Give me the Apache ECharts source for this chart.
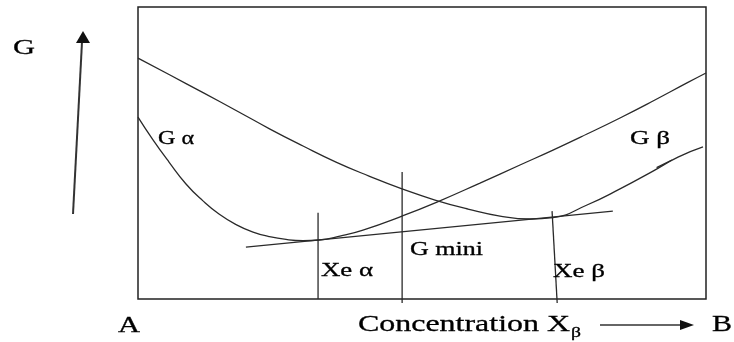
<!DOCTYPE html>
<html>
<head>
<meta charset="utf-8">
<script src="https://cdn.jsdelivr.net/npm/echarts@6/dist/echarts.min.js"></script>
<style>
  html, body { margin: 0; padding: 0; background: #fff; }
  #chart { width: 734px; height: 342px; }
</style>
</head>
<body>
<div id="chart"></div>
<script>
// Free-energy curves of the α and β phases vs. composition (A → B), arbitrary units 0–100
const gAlpha = [[0,62.3],[2.64,54.5],[5.46,46.9],[8.45,39.4],[11.44,33.6],[14.26,29.1],[17.25,25.5],
  [20.25,22.9],[23.06,21.4],[26.06,20.4],[29.05,20.0],[31.87,20.2],[35.74,21.6],[39.61,23.6],
  [46.48,28.4],[52.64,33.2],[60.21,39.7],[67.25,45.9],[73.06,51.0],[79.05,56.5],[84.86,62.0],
  [90.67,67.8],[96.65,74.0],[100,77.4]];
const gBeta = [[0,82.5],[5.63,76.7],[11.62,70.5],[17.43,64.4],[23.24,58.2],[29.05,52.4],[34.86,46.9],
  [40.67,42.1],[46.48,37.7],[52.29,33.9],[58.10,30.8],[63.73,28.4],[69.01,27.4],[73.06,27.9],
  [79.05,32.2],[84.86,37.7],[90.67,43.8],[95.07,48.6],[99.47,52.1]];
const gBetaTick = [[91.3,45.0],[94.0,47.6]];
// Common tangent touching both curves
const commonTangent = [[19.0,17.8],[83.6,30.1]];
// Vertical markers: equilibrium compositions and the minimum-G composition
const xeAlphaLine = [[31.7,29.5],[31.7,0]];
const gMiniLine = [[46.5,43.5],[46.5,-1.4]];
const xeBetaLine = [[72.9,30.1],[73.8,-1.4]];

const curveLabels = ['G α', 'G β'];
const markerLabels = ['Xe α', 'G mini', 'Xe β'];
const axisLabels = ['G', 'A', 'Concentration X', 'β', 'B'];

const FONT = '"Liberation Serif", "Times New Roman", serif';
const INK = '#2a2a2a';

const measureCtx = document.createElement('canvas').getContext('2d');
// Text stretched horizontally to span [x0, x1], vertically centred on y
function stretchedText(text, x0, x1, y, size) {
  measureCtx.font = size + 'px ' + FONT;
  const w = measureCtx.measureText(text).width;
  return {
    type: 'text', x: x0, y: y, scaleX: (x1 - x0) / w, z: 10,
    style: { text: text, font: size + 'px ' + FONT, fill: '#000', align: 'left', verticalAlign: 'middle',
      stroke: '#000', lineWidth: 0.3 }
  };
}

function lineSeries(data, smooth, clip) {
  return {
    type: 'line', data: data, smooth: smooth, symbol: 'none', clip: clip,
    lineStyle: { color: INK, width: 1.3 }, silent: true, animation: false
  };
}

const chart = echarts.init(document.getElementById('chart'), null, { renderer: 'canvas' });
chart.setOption({
  backgroundColor: '#fff',
  animation: false,
  grid: { left: 138, top: 7, right: 28, bottom: 43, show: true, borderColor: '#222', borderWidth: 1.5, backgroundColor: 'transparent' },
  xAxis: { type: 'value', min: 0, max: 100, show: false },
  yAxis: { type: 'value', min: 0, max: 100, show: false },
  series: [
    lineSeries(gAlpha, 0.5, true),
    lineSeries(gBeta, 0.5, true),
    lineSeries(gBetaTick, false, true),
    lineSeries(commonTangent, false, true),
    lineSeries(xeAlphaLine, false, false),
    lineSeries(gMiniLine, false, false),
    lineSeries(xeBetaLine, false, false)
  ],
  graphic: [
    // G axis arrow
    { type: 'line', shape: { x1: 73, y1: 214, x2: 82, y2: 42 }, style: { stroke: '#333', lineWidth: 2 } },
    { type: 'polygon', shape: { points: [[83, 31], [76, 43], [90, 43]] }, style: { fill: '#111' } },
    // composition arrow
    { type: 'line', shape: { x1: 600, y1: 325, x2: 682, y2: 325 }, style: { stroke: '#333', lineWidth: 1.5 } },
    { type: 'polygon', shape: { points: [[694, 325], [680, 320], [680, 330]] }, style: { fill: '#111' } },
    stretchedText(axisLabels[0], 13, 35, 48, 22),
    stretchedText(axisLabels[1], 118, 140, 326, 23),
    stretchedText(axisLabels[2], 358, 570, 325, 23),
    stretchedText(axisLabels[3], 571, 581, 333, 14),
    stretchedText(axisLabels[4], 712, 732, 325, 23),
    stretchedText(curveLabels[0], 158, 194, 139, 19),
    stretchedText(curveLabels[1], 630, 670, 139, 19),
    stretchedText(markerLabels[0], 321, 373, 271, 19),
    stretchedText(markerLabels[1], 410, 483, 250, 19),
    stretchedText(markerLabels[2], 553, 605, 272, 19)
  ]
});
</script>
</body>
</html>
